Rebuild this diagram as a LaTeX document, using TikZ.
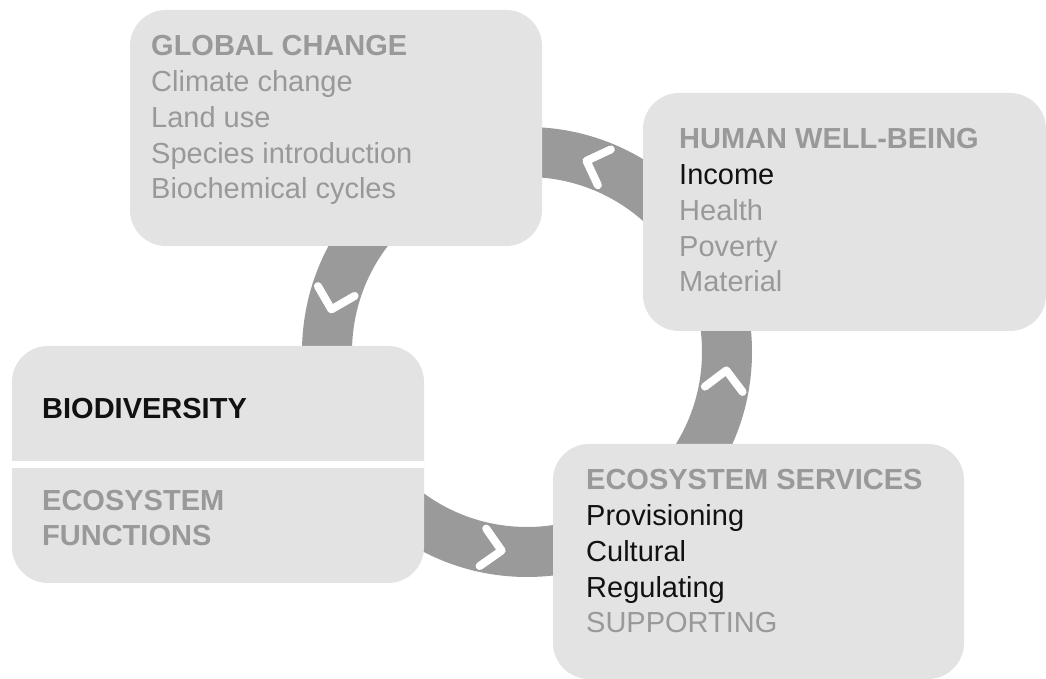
\documentclass[tikz,border=0pt]{standalone}
\usepackage{fontspec}
\setmainfont{Liberation Sans}
\definecolor{boxgray}{HTML}{E3E3E3}
\definecolor{ringgray}{HTML}{9A9A9A}
\definecolor{txtgray}{HTML}{999999}
\definecolor{txtblack}{HTML}{111111}
\begin{document}
\begin{tikzpicture}[x=1pt,y=1pt]

% radius of the ring (middle of the band)
\def\rr{200}
% styles
\tikzset{
	box/.style={fill=boxgray, rounded corners=36pt},
	txt/.style={anchor=base west, inner sep=0pt, align=left, text=txtgray,
		font=\fontsize{29}{35.8}\selectfont},
	chevron/.style={draw=white, line width=8pt, line cap=round, line join=round}
}
\useasboundingbox (0,0) rectangle (1046,679);

% ring with chevrons
\coordinate (c) at (527,327);
\draw[ringgray, line width=50pt] (c) circle[radius=\rr];
\foreach \a in {70,165,260,352} {
	\begin{scope}[shift={(c)}, rotate=\a]
		\draw[chevron] (\rr-19,-9.5) -- (\rr,9.5) -- (\rr+19,-9.5);
	\end{scope}
}

% boxes
\fill[box] (130,433) rectangle (542,669);
\fill[box] (643,348) rectangle (1046,586);
\fill[box] (12,96) rectangle (424,333);
\fill[white] (12,211) rectangle (424,218);
\fill[box] (553,0) rectangle (964,235);

% texts (anchored at the baseline of the last line)
\node[txt] (gc) at (151,480) {{\bfseries GLOBAL CHANGE}\\Climate change\\Land use\\Species introduction\\Biochemical cycles};
\node[txt] (hw) at (679,387) {{\bfseries HUMAN WELL-BEING}\\{\color{txtblack}Income}\\Health\\Poverty\\Material};
\node[txt] (es) at (586,46) {{\bfseries ECOSYSTEM SERVICES}\\{\color{txtblack}Provisioning}\\{\color{txtblack}Cultural}\\{\color{txtblack}Regulating}\\SUPPORTING};
\node[txt, text=txtblack, font=\fontsize{29}{35.8}\selectfont\bfseries] (bd) at (42,260) {BIODIVERSITY};
\node[txt, font=\fontsize{29}{35.8}\selectfont\bfseries] (ef) at (42,133) {ECOSYSTEM\\FUNCTIONS};

\end{tikzpicture}
\end{document}
